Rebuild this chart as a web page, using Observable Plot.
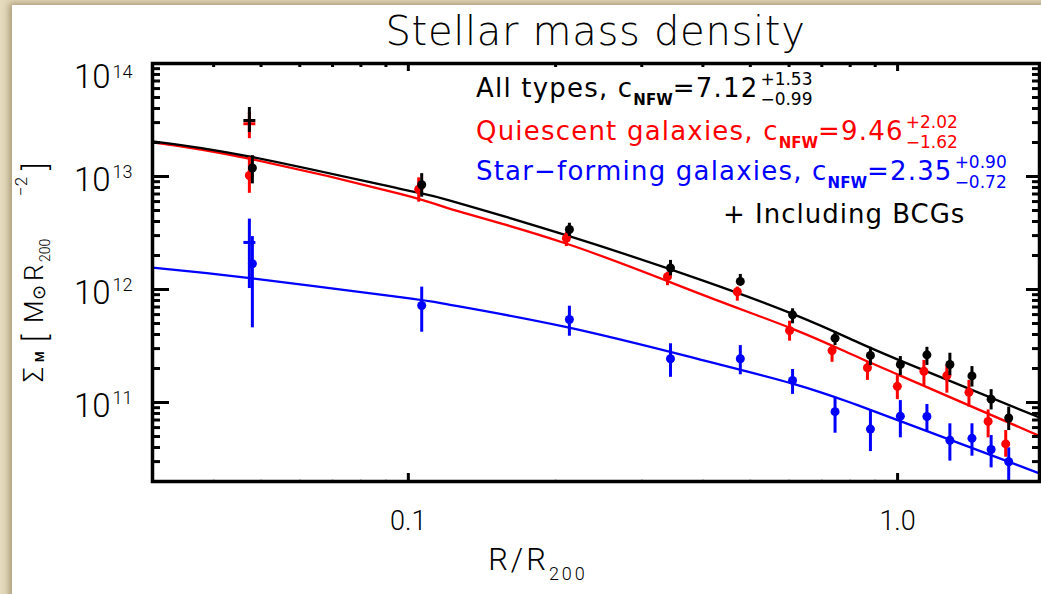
<!DOCTYPE html>
<html>
<head>
<meta charset="utf-8">
<script src="https://cdn.jsdelivr.net/npm/d3@7"></script>
<script src="https://cdn.jsdelivr.net/npm/@observablehq/plot@0.6"></script>
<style>
  html, body { margin: 0; padding: 0; }
  body {
    width: 1041px; height: 594px; overflow: hidden; position: relative;
    background: #e6dbbd;
    font-family: "DejaVu Sans", sans-serif;
  }
  #card {
    position: absolute; left: 12px; top: 5px; right: -20px; bottom: -20px;
    background: #ffffff;
    box-shadow: -3px -2px 7px rgba(90, 70, 30, 0.45);
  }
  #chart { position: absolute; left: 0; top: 0; }
</style>
</head>
<body>
<div id="card"></div>
<div id="chart"></div>
<script>
// ---- Radial bins, R/R200 ----
const radius = [0.048, 0.1065, 0.2134, 0.3434, 0.477, 0.61, 0.745, 0.88, 1.013, 1.148, 1.279, 1.419, 1.553, 1.687];

// ---- Stellar mass surface density, M_sun R200^-2 ----
const allMass = [1.19e13, 8.45e12, 3.40e12, 1.55e12, 1.18e12, 5.97e11, 3.71e11, 2.61e11, 2.17e11, 2.64e11, 2.17e11, 1.72e11, 1.07e11, 7.3e10];
const allLow  = [8.6e12, 6.56e12, 2.94e12, 1.32e12, 1.09e12, 4.97e11, 3.19e11, 2.13e11, 1.73e11, 2.13e11, 1.73e11, 1.37e11, 8.6e10, 5.65e10];
const allHigh = [1.53e13, 1.06e13, 3.86e12, 1.81e12, 1.36e12, 6.75e11, 4.25e11, 3.08e11, 2.55e11, 3.08e11, 2.73e11, 2.08e11, 1.30e11, 9.1e10];

const quiescentMass = [1.02e13, 7.72e12, 2.84e12, 1.30e12, 9.55e11, 4.34e11, 2.88e11, 2.03e11, 1.39e11, 1.89e11, 1.73e11, 1.23e11, 6.8e10, 4.3e10];
const quiescentLow  = [7.1e12, 5.93e12, 2.40e12, 1.08e12, 7.88e11, 3.49e11, 2.27e11, 1.57e11, 1.06e11, 1.41e11, 1.21e11, 9.1e10, 4.87e10, 3.28e10];
const quiescentHigh = [1.48e13, 9.73e12, 3.21e12, 1.42e12, 1.05e12, 5.24e11, 3.19e11, 2.27e11, 1.73e11, 2.36e11, 2.13e11, 1.57e11, 8.6e10, 5.65e10];

const starFormingMass = [1.69e12, 7.22e11, 5.43e11, 2.44e11, 2.44e11, 1.57e11, 8.3e10, 5.82e10, 7.57e10, 7.52e10, 4.63e10, 4.82e10, 3.84e10, 2.99e10];
const starFormingLow  = [4.58e11, 4.19e11, 3.86e11, 1.67e11, 1.76e11, 1.18e11, 5.35e10, 3.68e10, 4.87e10, 5.46e10, 3.03e10, 3.35e10, 2.64e10, 1.8e10];
const starFormingHigh = [2.94e12, 1.05e12, 7.12e11, 3.31e11, 3.19e11, 1.96e11, 1.11e11, 8.5e10, 1.04e11, 9.6e10, 6.48e10, 6.48e10, 5.1e10, 3.97e10];

// ---- Innermost bin including the BCGs (all, quiescent, star-forming) ----
const bcgRadius = 0.048;
const bcgMass = [3.13e13, 2.93e13, 2.61e12];
const bcgLow  = [2.45e13, 2.16e13, 1.02e12];
const bcgHigh = [4.08e13, 3.7e13, 4.2e12];

// ---- Best-fit projected NFW profiles ----
const fitRadius = [0.03, 0.0475, 0.0962, 0.1217, 0.2108, 0.3949, 0.6099, 0.8003, 1.0128, 1.95];
const fitAll         = [2.05e13, 1.50e13, 7.78e12, 6.13e12, 3.01e12, 1.225e12, 6.09e11, 3.66e11, 2.35e11, 7.37e10];
const fitQuiescent   = [2.01e13, 1.435e13, 7.03e12, 5.18e12, 2.54e12, 9.16e11, 4.49e11, 2.70e11, 1.73e11, 5.06e10];
const fitStarForming = [1.56e12, 1.26e12, 8.55e11, 7.32e11, 4.64e11, 2.40e11, 1.47e11, 1.0e11, 6.84e10, 2.36e10];

// ---- Legend entries ----
const seriesNames = ["All types", "Quiescent galaxies", "Star\u2212forming galaxies"];
const seriesColors = ["#000000", "#ff0000", "#0000ff"];
const concentration = ["7.12", "9.46", "2.35"];
const concentrationPlus = ["+1.53", "+2.02", "+0.90"];
const concentrationMinus = ["\u22120.99", "\u22121.62", "\u22120.72"];

// ---- Axis ticks ----
const xMajorTicks = [0.1, 1.0];
const xTickLabels = ["0.1", "1.0"];
const xMinorTicks = [0.04, 0.05, 0.06, 0.07, 0.08, 0.09, 0.2, 0.3, 0.4, 0.5, 0.6, 0.7, 0.8, 0.9];
const yMajorTicks = [1e11, 1e12, 1e13, 1e14];
const yTickExponents = ["11", "12", "13", "14"];
const minorMantissas = [2, 3, 4, 5, 6, 7, 8, 9];
const yDecades = [1e10, 1e11, 1e12, 1e13];
const yMinorTicks = yDecades.flatMap(d => minorMantissas.map(m => m * d));

// ---- Layout ----
const W = 1041, H = 594;
const mL = 152, mR = 2, mT = 63, mB = 113;
const innerW = W - mL - mR;
const innerH = H - mT - mB;
const AXIS_FONT = "Roboto, 'DejaVu Sans', sans-serif";

const toRows = (mass, low, high) => radius.map((r, i) => ({r, m: mass[i], lo: low[i], hi: high[i]}));
const fitRows = (fit) => fitRadius.map((r, i) => ({r, m: fit[i]}));

// drawn back to front: star-forming, quiescent, all types
const series = [
  {rows: toRows(starFormingMass, starFormingLow, starFormingHigh), fit: fitStarForming, color: seriesColors[2], dx: 0, bcg: 2},
  {rows: toRows(quiescentMass, quiescentLow, quiescentHigh), fit: fitQuiescent, color: seriesColors[1], dx: -3, bcg: 1},
  {rows: toRows(allMass, allLow, allHigh), fit: fitAll, color: seriesColors[0], dx: 0, bcg: 0}
];

// horizontal bar symbol: with the error bar it forms the "+" of the BCG points
const hbar = {
  draw(context, size) {
    const r = Math.sqrt(size / Math.PI);
    context.moveTo(-r, 0);
    context.lineTo(r, 0);
  }
};

const marks = [];
for (const s of series) {
  marks.push(Plot.line(fitRows(s.fit), {x: "r", y: "m", stroke: s.color, strokeWidth: 2.3, curve: "natural", clip: true}));
}
for (const s of series) {
  const bcg = [{r: bcgRadius, m: bcgMass[s.bcg], lo: bcgLow[s.bcg], hi: bcgHigh[s.bcg]}];
  marks.push(
    Plot.ruleX(bcg, {x: "r", y1: "lo", y2: "hi", stroke: s.color, strokeWidth: 3, dx: -3}),
    Plot.dot(bcg, {x: "r", y: "m", symbol: hbar, r: 6, fill: "none", stroke: s.color, strokeWidth: 3, dx: -3})
  );
}
for (const s of series) {
  marks.push(
    Plot.ruleX(s.rows, {x: "r", y1: "lo", y2: "hi", stroke: s.color, strokeWidth: 3, dx: s.dx, clip: true}),
    Plot.dot(s.rows, {x: "r", y: "m", r: 4.5, fill: s.color, stroke: null, dx: s.dx})
  );
}

// inward ticks on all four sides
marks.push(
  Plot.tickY(yMajorTicks, {y: d => d, insetRight: innerW - 17, strokeWidth: 3}),
  Plot.tickY(yMinorTicks, {y: d => d, insetRight: innerW - 8, strokeWidth: 3}),
  Plot.tickY(yMajorTicks, {y: d => d, insetLeft: innerW - 13, strokeWidth: 3}),
  Plot.tickY(yMinorTicks, {y: d => d, insetLeft: innerW - 7, strokeWidth: 3}),
  Plot.tickX(xMajorTicks, {x: d => d, insetBottom: innerH - 8, strokeWidth: 3}),
  Plot.tickX(xMinorTicks, {x: d => d, insetBottom: innerH - 4, strokeWidth: 3}),
  Plot.tickX(xMajorTicks, {x: d => d, insetTop: innerH - 8, strokeWidth: 3}),
  Plot.tickX(xMinorTicks, {x: d => d, insetTop: innerH - 2, strokeWidth: 1.5, stroke: "#c8c8c8"}),
  Plot.frame({stroke: "black", strokeWidth: 3.5})
);

// tick labels
const yInner = yMajorTicks.filter(d => d < 1e14);
const yTop = yMajorTicks.filter(d => d >= 1e14);
const expOf = d => yTickExponents[yMajorTicks.indexOf(d)];
const labelStyle = {fontFamily: AXIS_FONT, fontWeight: 300, fill: "black"};
marks.push(
  Plot.text(yInner, {...labelStyle, y: d => d, frameAnchor: "left", text: () => "10", textAnchor: "end", lineAnchor: "bottom", dx: -42, dy: 14, fontSize: 33, ariaLabel: "y tick base"}),
  Plot.text(yInner, {...labelStyle, y: d => d, frameAnchor: "left", text: expOf, textAnchor: "start", lineAnchor: "bottom", dx: -40, dy: 1, fontSize: 18, ariaLabel: "y tick exponent"}),
  Plot.text(yTop, {...labelStyle, y: d => d, frameAnchor: "left", text: () => "10", textAnchor: "end", lineAnchor: "bottom", dx: -42, dy: 24, fontSize: 33, ariaLabel: "y tick base"}),
  Plot.text(yTop, {...labelStyle, y: d => d, frameAnchor: "left", text: expOf, textAnchor: "start", lineAnchor: "bottom", dx: -40, dy: 14, fontSize: 18, ariaLabel: "y tick exponent"}),
  Plot.text(xMajorTicks, {...labelStyle, x: d => d, frameAnchor: "bottom", text: (d, i) => xTickLabels[i], textAnchor: "middle", lineAnchor: "bottom", dy: 48, fontSize: 27, ariaLabel: "x tick label"})
);

const chart = Plot.plot({
  width: W,
  height: H,
  marginLeft: mL, marginRight: mR, marginTop: mT, marginBottom: mB,
  style: {background: "transparent", fontFamily: "DejaVu Sans, sans-serif", overflow: "visible"},
  x: {type: "log", domain: [0.03, 1.95], axis: null},
  y: {type: "log", domain: [2e10, 1e14], axis: null},
  marks
});
document.getElementById("chart").append(chart);

const svg = d3.select(chart);
svg.selectAll('g[aria-label="x tick label"] text').attr("letter-spacing", 4);
svg.selectAll('g[aria-label="y tick base"] text').attr("letter-spacing", 0);
svg.selectAll('g[aria-label="y tick exponent"] text').attr("letter-spacing", 1);

const ann = svg.append("g")
  .attr("font-family", "DejaVu Sans, sans-serif")
  .attr("fill", "black")
  .attr("text-anchor", "start");

// title
ann.append("text")
  .attr("x", mL + innerW / 2).attr("y", 45)
  .attr("text-anchor", "middle").attr("font-size", 40).attr("font-weight", 200).attr("letter-spacing", 0.7)
  .text("Stellar mass density");

// x axis label
const xl = ann.append("text").attr("x", 538).attr("y", 570).attr("text-anchor", "middle")
  .attr("font-family", AXIS_FONT).attr("font-weight", 300).attr("letter-spacing", 3);
xl.append("tspan").attr("font-size", 31).text("R/R");
xl.append("tspan").attr("font-size", 18).attr("dy", 10).text("200");

// y axis label, reading upward
const yl = ann.append("text").attr("transform", "translate(43,382) rotate(-90)").attr("text-anchor", "start")
  .attr("font-family", AXIS_FONT).attr("font-weight", 300);
yl.append("tspan").attr("x", 0).attr("y", 0).attr("font-size", 27).text("\u03a3");
yl.append("tspan").attr("x", 20).attr("y", 1).attr("font-size", 12).attr("font-weight", "bold").text("M");
yl.append("tspan").attr("x", 40).attr("y", 3).attr("font-size", 31).text("[");
yl.append("tspan").attr("x", 59).attr("y", 0).attr("font-size", 26).text("M");
yl.append("tspan").attr("x", 82).attr("y", 2).attr("font-size", 18).attr("font-family", "DejaVu Sans").text("\u2299");
yl.append("tspan").attr("x", 101).attr("y", 0).attr("font-size", 26).text("R");
yl.append("tspan").attr("x", 120).attr("y", 7).attr("font-size", 14).text("200");
yl.append("tspan").attr("x", 186).attr("y", -16).attr("font-size", 17).text("\u22122");
yl.append("tspan").attr("x", 212).attr("y", 3).attr("font-size", 31).text("]");

// legend with fitted NFW concentrations
const legendBaselines = [97, 140, 180];
seriesNames.forEach((name, i) => {
  const y = legendBaselines[i];
  const color = seriesColors[i];
  const t = ann.append("text").attr("x", 476).attr("y", y).attr("fill", color)
    .attr("font-size", 26).attr("letter-spacing", 1.2);
  t.append("tspan").text(name + ", c");
  t.append("tspan").attr("font-size", 15).attr("font-weight", "bold").attr("dy", 8).attr("letter-spacing", 0).text("NFW");
  t.append("tspan").attr("dy", -8).text("=" + concentration[i]);
  const box = t.node().getBBox();
  const xs = box.x + box.width + 2;
  ann.append("text").attr("x", xs).attr("y", y - 12).attr("fill", color).attr("font-size", 17).text(concentrationPlus[i]);
  ann.append("text").attr("x", xs).attr("y", y + 8).attr("fill", color).attr("font-size", 17).text(concentrationMinus[i]);
});
ann.append("text").attr("x", 723).attr("y", 223).attr("font-size", 26).attr("letter-spacing", 1)
  .text("+ Including BCGs");
</script>
</body>
</html>
